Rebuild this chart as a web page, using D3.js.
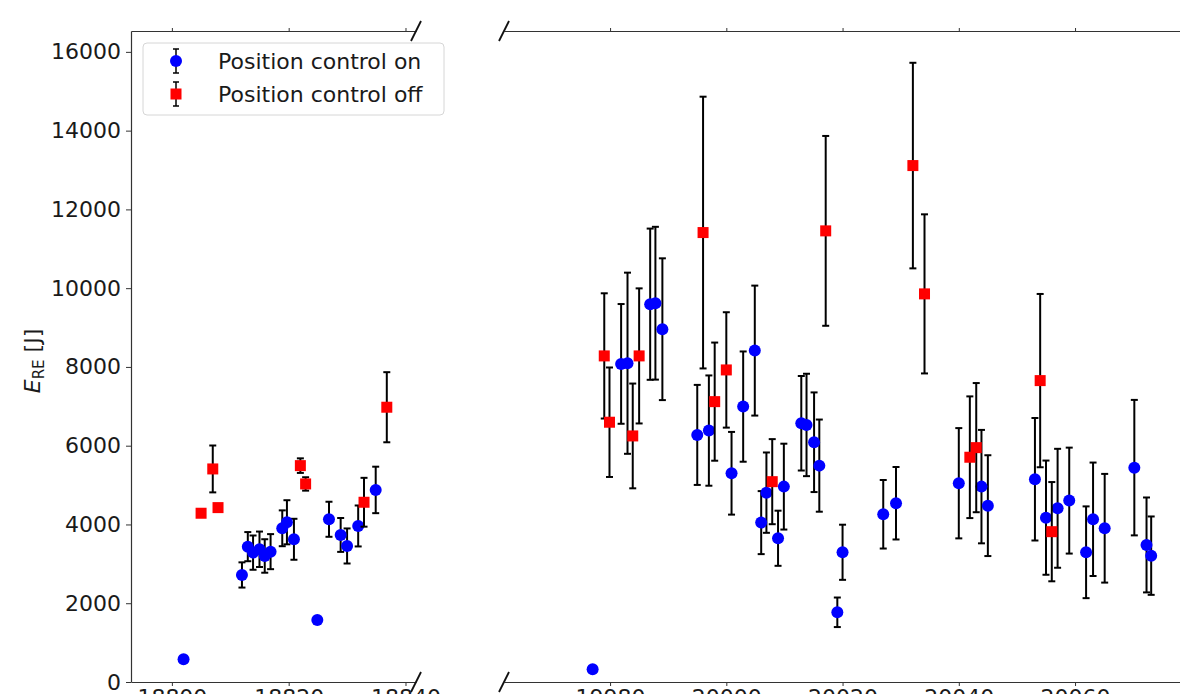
<!DOCTYPE html>
<html>
<head>
<meta charset="utf-8">
<script src="https://cdn.jsdelivr.net/npm/d3@7"></script>
<style>
  body { margin: 0; background: #fff; }
  text { font-family: "DejaVu Sans", sans-serif; }
</style>
</head>
<body>
<svg id="drawing_region"></svg>
<script>
// position control on (blue circles)
const onDays   = [18802.0, 18812.0, 18813.0, 18813.9, 18815.0, 18815.9, 18816.9, 18818.9, 18819.7, 18820.9,
                  18824.9, 18826.9, 18828.9, 18830.0, 18831.9, 18834.9,
                  19977.0, 19981.9, 19983.0, 19986.9, 19987.8, 19989.0, 19995.0, 19997.0, 20000.9, 20002.9,
                  20004.9, 20006.0, 20006.9, 20008.9, 20009.9, 20012.9, 20013.8, 20015.1, 20016.0, 20019.1,
                  20020.0, 20027.0, 20029.2, 20040.0, 20043.9, 20045.0, 20053.1, 20055.0, 20057.0, 20059.0,
                  20061.9, 20063.1, 20065.1, 20070.2, 20072.3, 20073.1];
const onEnergy = [577, 2718, 3437, 3285, 3370, 3200, 3310, 3903, 4056, 3624,
                  1575, 4132, 3734, 3454, 3962, 4877,
                  322, 8077, 8094, 9593, 9618, 8958, 6274, 6384, 5300, 6993,
                  8415, 4047, 4808, 3650, 4961, 6570, 6527, 6088, 5494, 1770,
                  3294, 4259, 4539, 5047, 4961, 4478, 5148, 4173, 4411, 4606,
                  3294, 4132, 3904, 5443, 3480, 3208];
const onErr    = [0, 320, 370, 435, 450, 425, 445, 455, 560, 520,
                  0, 445, 430, 445, 520, 590,
                  0, 1520, 2300, 1920, 1940, 1800, 1270, 1400, 1050, 1400,
                  1650, 800, 1020, 700, 1090, 1200, 1300, 1265, 1170, 375,
                  700, 870, 920, 1400, 1440, 1280, 1555, 1450, 1510, 1345,
                  1165, 1440, 1380, 1720, 1205, 995];

// position control off (red squares)
const offDays   = [18805.0, 18807.0, 18807.9, 18822.0, 18822.9, 18832.9, 18836.8,
                   19979.0, 19979.9, 19983.9, 19985.0, 19996.0, 19998.0, 20000.0, 20007.9,
                   20017.1, 20032.1, 20034.1, 20041.9, 20043.0, 20054.0, 20056.0];
const offEnergy = [4285, 5410, 4428, 5494, 5029, 4564, 6977,
                   8280, 6596, 6248, 8280, 11412, 7119, 7924, 5087,
                   11455, 13113, 9855, 5707, 5951, 7653, 3817];
const offErr    = [0, 595, 0, 185, 170, 620, 890,
                   1590, 1390, 1330, 1715, 3450, 1500, 1465, 1080,
                   2410, 2610, 2020, 1545, 1640, 2200, 1260];

const yTicks = [0, 2000, 4000, 6000, 8000, 10000, 12000, 14000, 16000];
const leftTicks = [18800, 18820, 18840];
const rightTicks = [19980, 20000, 20020, 20040, 20060];
const legendLabels = ['Position control on', 'Position control off'];

const width = 1180, height = 694;
const svg = d3.select('#drawing_region')
  .attr('width', width)
  .attr('height', height);

svg.append('rect').attr('width', width).attr('height', height).attr('fill', '#fff');

const yscale = d3.scaleLinear().domain([0, 16530]).range([682, 31]);
const xleft = d3.scaleLinear().domain([18793, 18841.8]).range([131, 416]);
const xright = d3.scaleLinear().domain([19961.75, 20081.5]).range([504, 1200]);
const breakX = 19000;
const xpos = d => d < breakX ? xleft(d) : xright(d);

const fontSize = '22px';
const spine = '#333';
const fmt = d3.format('d');

function styleAxis(g) {
  g.select('.domain').attr('stroke', spine).attr('stroke-width', 1.2);
  g.selectAll('.tick line').attr('stroke', spine).attr('stroke-width', 1);
  g.selectAll('.tick text').attr('fill', '#1a1a1a').style('font-size', fontSize)
    .style('font-family', '"DejaVu Sans", sans-serif');
}

// y axis
svg.append('g')
  .attr('transform', 'translate(131,0)')
  .call(d3.axisLeft(yscale).tickValues(yTicks).tickFormat(fmt).tickSize(5).tickPadding(5).tickSizeOuter(0))
  .call(styleAxis);

// bottom + top axes, both panels
[[xleft, leftTicks], [xright, rightTicks]].forEach(([sc, ticks]) => {
  svg.append('g')
    .attr('transform', 'translate(0,682)')
    .call(d3.axisBottom(sc).tickValues(ticks).tickFormat(fmt).tickSize(4).tickPadding(3).tickSizeOuter(0))
    .call(styleAxis);
  svg.append('g')
    .attr('transform', 'translate(0,31)')
    .call(d3.axisTop(sc).tickValues(ticks).tickSize(3).tickFormat('').tickSizeOuter(0))
    .call(styleAxis);
});

// break marks
const breaks = [[416, 31], [416, 682], [504, 31], [504, 682]];
svg.selectAll('.brk')
  .data(breaks)
  .enter()
  .append('line')
  .attr('x1', d => d[0] - 5).attr('y1', d => d[1] + 10)
  .attr('x2', d => d[0] + 5).attr('y2', d => d[1] - 10)
  .attr('stroke', '#111').attr('stroke-width', 1.8);

// y label
const ylab = svg.append('text')
  .attr('transform', 'translate(40,361) rotate(-90)')
  .attr('text-anchor', 'middle')
  .style('font-size', fontSize)
  .attr('fill', '#1a1a1a');
ylab.append('tspan').text('E').style('font-style', 'italic');
ylab.append('tspan').text('RE').style('font-size', '15px').attr('dy', 4);
ylab.append('tspan').text(' [J]').attr('dy', -4);

function errorbars(days, vals, errs) {
  const g = svg.append('g').attr('stroke', '#000').attr('stroke-width', 2);
  days.forEach((d, i) => {
    if (!errs[i]) return;
    const x = xpos(d);
    const y0 = yscale(vals[i] - errs[i]), y1 = yscale(vals[i] + errs[i]);
    g.append('line').attr('x1', x).attr('x2', x).attr('y1', y0).attr('y2', y1);
    g.append('line').attr('x1', x - 3.5).attr('x2', x + 3.5).attr('y1', y0).attr('y2', y0);
    g.append('line').attr('x1', x - 3.5).attr('x2', x + 3.5).attr('y1', y1).attr('y2', y1);
  });
}

errorbars(onDays, onEnergy, onErr);
svg.append('g').selectAll('circle')
  .data(onDays)
  .enter()
  .append('circle')
  .attr('cx', d => xpos(d))
  .attr('cy', (d, i) => yscale(onEnergy[i]))
  .attr('r', 6)
  .attr('fill', '#0000ff');

errorbars(offDays, offEnergy, offErr);
svg.append('g').selectAll('rect')
  .data(offDays)
  .enter()
  .append('rect')
  .attr('x', d => xpos(d) - 5.5)
  .attr('y', (d, i) => yscale(offEnergy[i]) - 5.5)
  .attr('width', 11)
  .attr('height', 11)
  .attr('fill', '#ff0000');

// legend
const legend = svg.append('g');
legend.append('rect')
  .attr('x', 143).attr('y', 43).attr('width', 301).attr('height', 72).attr('rx', 4)
  .attr('fill', '#fff').attr('fill-opacity', 0.85)
  .attr('stroke', '#d6d6d6').attr('stroke-width', 1);
legendLabels.forEach((lab, i) => {
  const cy = 61 + i * 33, cx = 176;
  const row = legend.append('g');
  row.append('line').attr('x1', cx).attr('x2', cx).attr('y1', cy - 12).attr('y2', cy + 12)
    .attr('stroke', '#000').attr('stroke-width', 1.5);
  [cy - 12, cy + 12].forEach(yy => row.append('line')
    .attr('x1', cx - 3).attr('x2', cx + 3).attr('y1', yy).attr('y2', yy)
    .attr('stroke', '#000').attr('stroke-width', 1.5));
  if (i === 0) {
    row.append('circle').attr('cx', cx).attr('cy', cy).attr('r', 6).attr('fill', '#0000ff');
  } else {
    row.append('rect').attr('x', cx - 5.5).attr('y', cy - 5.5).attr('width', 11).attr('height', 11)
      .attr('fill', '#ff0000');
  }
  row.append('text').attr('x', 218).attr('y', cy + 8)
    .style('font-size', fontSize).attr('fill', '#1a1a1a').text(lab);
});
</script>
</body>
</html>
